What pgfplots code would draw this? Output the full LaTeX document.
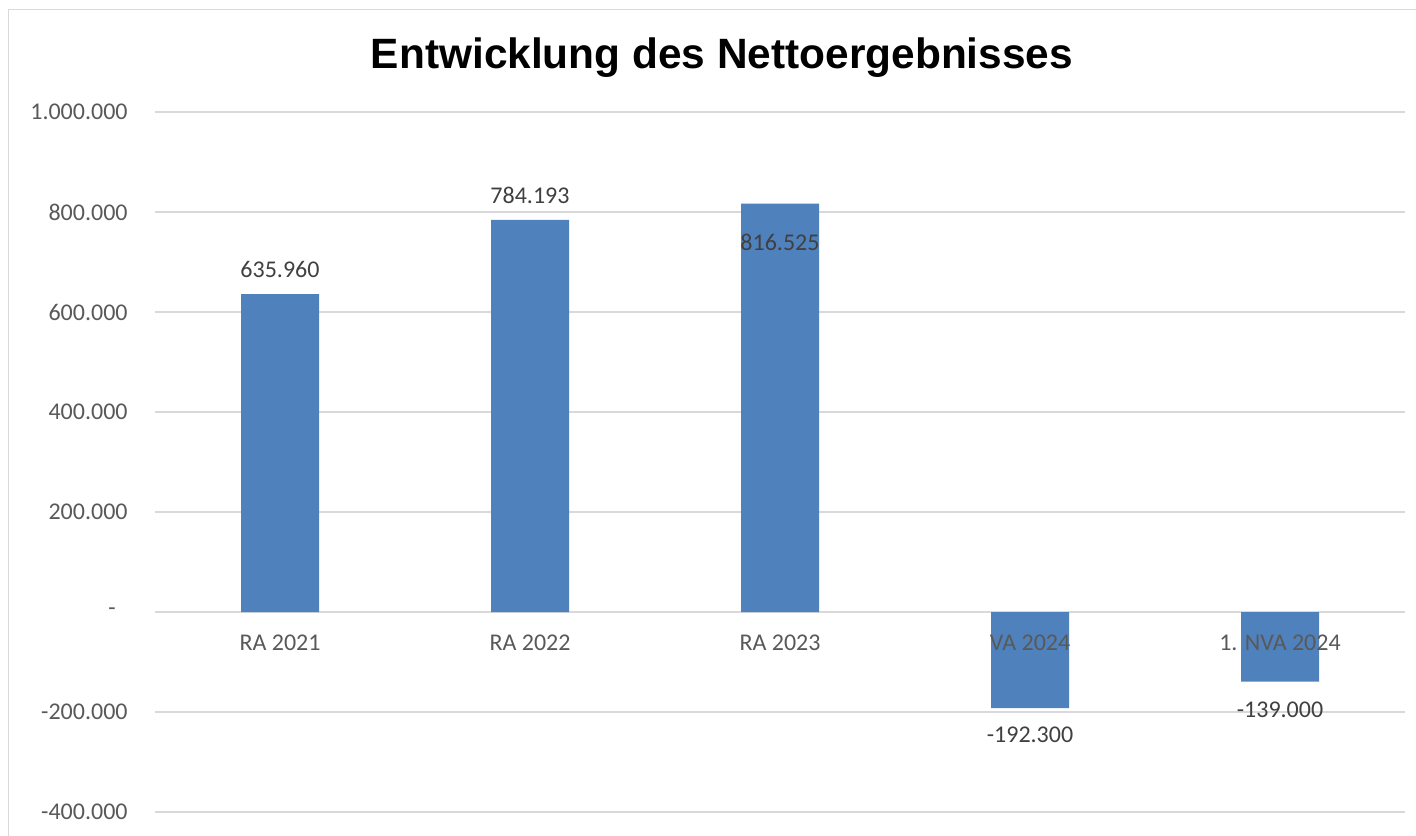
\documentclass[border=0pt]{standalone}
\usepackage{pgfplots}
\pgfplotsset{compat=1.18}
\usepackage{fontspec}
\setmainfont{Carlito}
\newfontfamily\titlefont{Liberation Sans}
\definecolor{barblue}{HTML}{4F81BD}
\definecolor{gridgray}{HTML}{D9D9D9}
\definecolor{ticktext}{HTML}{595959}
\definecolor{labeltext}{HTML}{404040}
\pgfplotstableread{
x y
0 635960
1 784193
2 816525
3 -192300
4 -139000
}\datatable
\begin{document}
\begin{tikzpicture}
\useasboundingbox (0,0) rectangle (708pt,417.5pt);
\fill[white] (0,0) rectangle (708pt,417.5pt);
\draw[gridgray, line width=0.75pt] (4.25pt,-1pt) -- (4.25pt,412.75pt) -- (709pt,412.75pt);
\node[font=\titlefont\bfseries\fontsize{21.2}{25}\selectfont] at (361pt,388.5pt) {Entwicklung des Nettoergebnisses};
\begin{axis}[at={(77.5pt,11.5pt)}, anchor=south west, scale only axis, width=625pt, height=350pt,
 xmin=-0.5,xmax=4.5,ymin=-400000,ymax=1000000,
 scaled y ticks=false,
 ytick={-400000,-200000,0,200000,400000,600000,800000,1000000},
 yticklabels={-400.000,-200.000,{-\rule{6pt}{0pt}},200.000,400.000,600.000,800.000,1.000.000},
 xtick=\empty,
 ymajorgrids, grid style={gridgray, line width=0.75pt},
 axis line style={draw=none}, major tick length=0pt,
 yticklabel style={font=\fontsize{12}{14}\selectfont, text=ticktext, inner sep=0pt, xshift=-13.5pt},
 ybar, bar width=39pt,
 clip=false]
\addplot[fill=barblue, draw=none, bar shift=0pt] table[x=x,y=y] {\datatable};
\begin{scope}[every node/.style={font=\fontsize{12}{14}\selectfont, text=ticktext, inner sep=0pt}]
\node[yshift=-15.5pt] at (axis cs:0,0) {RA 2021};
\node[yshift=-15.5pt] at (axis cs:1,0) {RA 2022};
\node[yshift=-15.5pt] at (axis cs:2,0) {RA 2023};
\node[yshift=-15.5pt] at (axis cs:3,0) {VA 2024};
\node[yshift=-15.5pt] at (axis cs:4,0) {1. NVA 2024};
\end{scope}
\begin{scope}[every node/.style={font=\fontsize{12}{14}\selectfont, text=labeltext, inner sep=0pt}]
\node[yshift=12.5pt] at (axis cs:0,635960) {635.960};
\node[yshift=12.5pt] at (axis cs:1,784193) {784.193};
\node[yshift=-19.5pt] at (axis cs:2,816525) {816.525};
\node[yshift=-13.5pt] at (axis cs:3,-192300) {-192.300};
\node[yshift=-14pt] at (axis cs:4,-139000) {-139.000};
\end{scope}
\end{axis}
\end{tikzpicture}
\end{document}
